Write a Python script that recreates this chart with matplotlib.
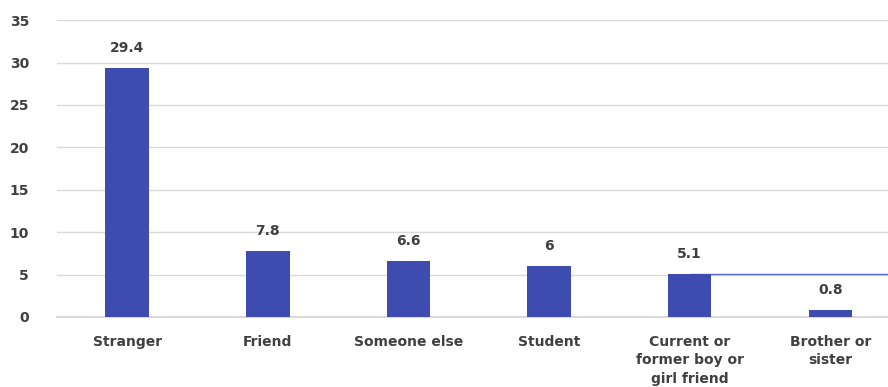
import matplotlib.pyplot as plt
import numpy as np

categories = ["Stranger", "Friend", "Someone else", "Student",
              "Current or\nformer boy or\ngirl friend", "Brother or\nsister"]
values = [29.4, 7.8, 6.6, 6, 5.1, 0.8]
value_labels = ["29.4", "7.8", "6.6", "6", "5.1", "0.8"]
yticks = [0, 5, 10, 15, 20, 25, 30, 35]

bar_color = '#3d4cae'
text_color = '#404040'

plt.rcParams['font.family'] = ['DejaVu Sans']

fig = plt.figure(figsize=(8.88, 3.87), dpi=100)
ax = fig.add_axes([0.064, 0.181, 0.936, 0.767])

x = np.arange(len(categories))
ax.bar(x, values, width=0.31, color=bar_color, zorder=3)

# odd line running out from the 5th bar in the original image
ax.hlines(values[4], x[4], 6, color='#5a6ac4', linewidth=1, zorder=2)

for xi, v, lab in zip(x, values, value_labels):
    ax.text(xi, v + 1.5, lab, ha='center', va='bottom', fontsize=10,
            fontweight='bold', color=text_color)

ax.set_xlim(-0.5, 5.41)
ax.set_ylim(0, 35)
ax.set_yticks(yticks)
ax.set_xticks(x)
ax.set_xticklabels(categories, fontsize=10, fontweight='bold', color=text_color,
                   linespacing=1.4)
for lab in ax.get_yticklabels():
    lab.set_fontsize(10)
    lab.set_fontweight('bold')
    lab.set_color(text_color)

ax.tick_params(axis='both', length=0)
ax.tick_params(axis='y', pad=20)
ax.tick_params(axis='x', pad=13)
ax.grid(axis='y', color='#d9d9d9', linewidth=1, zorder=0)
ax.axhline(0, color='#d9d9d9', linewidth=1.5, zorder=1, clip_on=False)
for s in ax.spines.values():
    s.set_visible(False)

fig.savefig('out.png', dpi=100)
